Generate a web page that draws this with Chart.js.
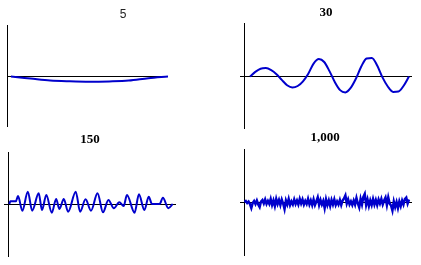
<!DOCTYPE html>
<html>
<head>
<meta charset="utf-8">
<script src="https://cdn.jsdelivr.net/npm/chart.js@4/dist/chart.umd.min.js"></script>
<style>
  body { margin: 0; background: #fff; width: 421px; height: 265px; overflow: hidden; }
  canvas { position: absolute; }
</style>
</head>
<body>
<canvas id="g5" width="246" height="120" style="left:0px;top:7px"></canvas>
<canvas id="g30" width="180" height="124" style="left:236px;top:5px"></canvas>
<canvas id="g150" width="180" height="125" style="left:0px;top:132px"></canvas>
<canvas id="g1000" width="178" height="126" style="left:236px;top:130px"></canvas>
<script>
// titulos de cada panel
const titulos = ["5", "30", "150", "1,000"];

// panel "5": muestras equiespaciadas
const valores5 = [0, -2.0, -4.0, -4.8, -5.2, -4.9, -4.1, -1.7, 0];

// panel "30": muestras equiespaciadas
const valores30 = [0, 4.6, 7.8, 8.4, 6.4, 2.3, -3.4, -8.7, -11, -9.5, -4.8, 2.8, 12.9, 17.4, 14.5, 5.4,
  -5.5, -13.6, -15.9, -11.4, -2, 10, 18.1, 18.5, 11, -0.9, -10, -15.4, -15.1, -9.2, 0];

// panel "150": posiciones y valores de los picos
const tiempo150 = [0, 1, 6, 8, 12, 17, 21, 27, 30, 34, 39, 43, 46, 50, 54, 61, 65, 70, 75, 81,
  86, 91, 96, 101, 105, 108, 115, 119, 124, 128, 131, 138, 141, 146, 150];
const valores150 = [0, 2.7, 2.7, 8, -6.7, 12.3, -6.7, 10.7, -6, 9, -8.7, 5, -5, 5, -7.7, 12.3, -7.7, 4.7, -6.7, 10.7,
  -8.3, 4, -4.3, 1.7, -2, 9, -8.7, 9.7, -6, 7.3, 0, 0, 6.3, -4.3, 0];

// panel "1,000": ruido
const valores1000 = [0, 1, -1, 0.5, -2, -6, -1, 1, -2, 1.5,
  -2.5, -5, 0.5, 2, -1.5, 2.5, -2, 1, -2, 3,
  -3, 1.5, -4, 3, -2, 2, -3, 2.5, -1.5, -7,
  1.5, -2.5, 3, -3, 0.5, -2.5, 2.5, -2, 1.5, -2.5,
  3, -1.5, 2.5, -2.5, 1, -2, 3, -2.5, 1.5, -3,
  2.5, -3, 0.5, 4.5, -3, 2, -2.5, 1, -6, 2.5,
  -3, 1.5, -4, 2, -2.5, 2.5, -3, 0.5, -2.5, 2,
  -3, 1.5, 3.5, 6.5, -1.5, 2.5, -2.5, 0.5, -3, 1.5,
  -2.5, 4, -1.5, -5.5, 3, -2.5, 5, 8, -3, 2.5,
  -4, 1.5, -3, 3, -2.5, 2, -3, 2.5, -1.5, 3,
  -2.5, 1.5, 4.5, -3, 4.5, -1.5, -3.5, -8.5, 0.5, -5,
  0, -6, 0.5, -4, 1.5, -2.5, 3, 4.5, -1.5, 2.5];

const AZUL = "#0000cc";
const fuenteSans = { family: '"Liberation Sans", Arial, sans-serif', size: 12, weight: "normal", lineHeight: 1.2 };
const fuenteSerif = { family: '"Liberation Serif", "Times New Roman", serif', size: 13, weight: "bold", lineHeight: 1.2 };

function indices(lista) {
    return lista.map(function (v, i) { return i; });
}

function GraficaOnda(id, titulo, xs, ys, cfg) {
    let ctx = document.getElementById(id).getContext("2d");
    var puntos = ys.map(function (v, i) { return { x: xs[i], y: v }; });

    return new Chart(ctx, {
        type: "line",
        data: {
            datasets: [{
                data: puntos,
                borderColor: AZUL,
                borderWidth: cfg.grosor,
                pointRadius: 0,
                fill: false,
                tension: 0,
                cubicInterpolationMode: cfg.curva ? "monotone" : "default"
            }]
        },
        options: {
            responsive: false,
            animation: false,
            events: [],
            layout: { padding: 0, autoPadding: false },
            plugins: {
                legend: { display: false },
                tooltip: { enabled: false },
                title: {
                    display: true,
                    text: titulo,
                    color: cfg.colorTitulo,
                    font: cfg.fuente,
                    padding: { top: 0, bottom: cfg.margenTitulo }
                }
            },
            scales: {
                x: { type: "linear", display: false, min: cfg.xMin, max: cfg.xMax },
                y: {
                    min: cfg.yMin,
                    max: cfg.yMax,
                    ticks: { display: false },
                    // solo la linea del cero
                    afterBuildTicks: function (s) { s.ticks = [{ value: 0 }]; },
                    afterFit: function (s) { s.width = cfg.izq; },
                    grid: { color: "#000", lineWidth: 1, drawTicks: cfg.marca > 0, tickLength: cfg.marca },
                    border: { display: true, color: "#000", width: 1 }
                },
                // hueco a la derecha para centrar el titulo
                derecha: {
                    position: "right",
                    grid: { display: false },
                    border: { display: false },
                    ticks: { display: false },
                    afterFit: function (s) { s.width = cfg.der; }
                }
            }
        }
    });
}

GraficaOnda("g5", titulos[0], indices(valores5), valores5, {
    fuente: fuenteSans, colorTitulo: "#222", margenTitulo: 3.6, curva: true, grosor: 2,
    izq: 7, der: 78, marca: 0, xMin: -0.2, xMax: 8, yMin: -50.5, yMax: 51.5
});

GraficaOnda("g30", titulos[1], indices(valores30), valores30, {
    fuente: fuenteSerif, colorTitulo: "#000", margenTitulo: 2.4, curva: true, grosor: 2,
    izq: 8, der: 4, marca: 4, xMin: -1.13, xMax: 30.57, yMin: -52.5, yMax: 53.5
});

GraficaOnda("g150", titulos[2], tiempo150, valores150, {
    fuente: fuenteSerif, colorTitulo: "#000", margenTitulo: 4.4, curva: true, grosor: 2,
    izq: 8, der: 4, marca: 4, xMin: -1.19, xMax: 153.03, yMin: -53, yMax: 52
});

GraficaOnda("g1000", titulos[3], indices(valores1000), valores1000, {
    fuente: fuenteSerif, colorTitulo: "#000", margenTitulo: 3.4, curva: false, grosor: 2.5,
    izq: 8, der: 2, marca: 4, xMin: -0.3, xMax: 121.16, yMin: -54, yMax: 53
});
</script>
</body>
</html>
